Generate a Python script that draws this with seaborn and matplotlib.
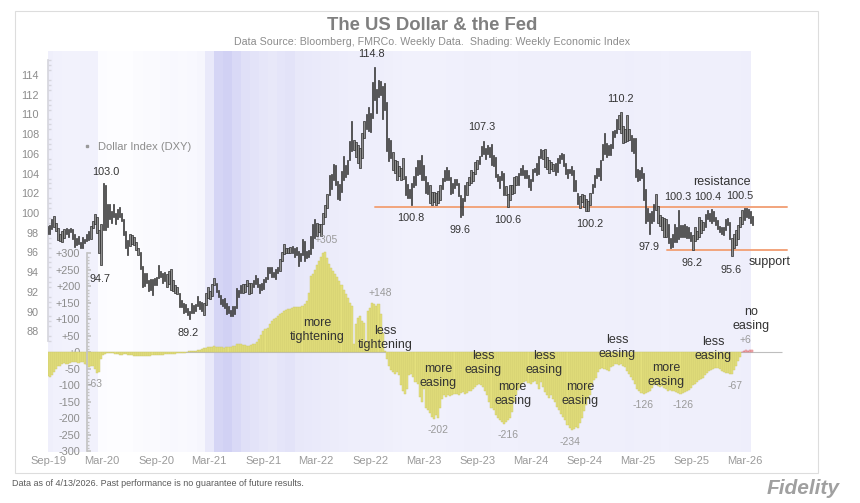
import numpy as np
import pandas as pd
import seaborn as sns
import matplotlib.pyplot as plt
import matplotlib.dates as mdates
from matplotlib.colors import LinearSegmentedColormap, PowerNorm
from matplotlib.lines import Line2D
from matplotlib.patches import Rectangle
from matplotlib.ticker import FuncFormatter, FixedLocator

# weekly (Friday) Dollar Index range, one line per month, Sep-2019 .. Apr-2026
dxy_low = [
    97.9, 97.9, 98.4,
    98.6, 98.2, 97.3, 97.2,
    97.1, 97.5, 97.9, 97.6, 98.1,
    97.4, 96.6, 96.8, 96.9,
    96.4, 96.4, 97.0, 97.2, 97.3,
    97.4, 98.5, 98.9, 98.0,
    95.9, 94.7, 98.3, 98.3,
    98.6, 99.4, 99.0, 99.6,
    98.9, 99.4, 99.6, 99.2, 97.8,
    96.5, 95.7, 96.7, 96.9,
    96.8, 96.2, 95.7, 94.3, 92.5,
    92.6, 92.9, 92.1, 92.2,
    91.7, 92.7, 92.7, 93.4,
    93.5, 92.9, 93.1, 92.5, 92.8,
    92.2, 92.1, 91.9, 91.8,
    90.5, 90.5, 89.9, 90.0,
    89.7, 89.2, 89.9, 89.9, 90.1,
    90.6, 90.3, 90.1, 89.7,
    90.7, 91.4, 91.3, 91.6,
    92.7, 92.0, 91.5, 90.8, 90.6,
    90.4, 89.8, 89.9, 89.6,
    89.6, 89.8, 90.4, 91.5,
    91.9, 91.9, 92.0, 92.6, 91.8,
    91.9, 92.5, 92.8, 92.5,
    91.9, 92.2, 92.3, 93.0,
    93.3, 93.9, 93.5, 93.5, 93.3,
    93.9, 94.1, 95.1, 95.8,
    95.9, 95.9, 95.9, 95.9, 95.5,
    95.7, 94.6, 95.1, 95.7,
    95.1, 95.4, 95.5, 95.8,
    96.4, 97.5, 97.7, 98.1,
    97.7, 98.9, 99.6, 100.5, 101.8,
    102.4, 103.4, 102.8, 101.4,
    101.3, 102.1, 103.4, 103.7,
    104.0, 105.4, 106.3, 106.4, 105.7,
    105.1, 104.6, 105.6, 107.6,
    108.5, 108.3, 108.2, 109.6, 111.5,
    110.1, 111.8, 112.0, 109.5,
    110.5, 106.3, 105.3, 105.6,
    104.4, 104.1, 103.4, 103.8, 103.4,
    103.5, 101.8, 101.5, 101.5,
    100.8, 102.6, 102.8, 103.9,
    104.0, 103.4, 103.4, 102.0, 101.9,
    101.0, 100.8, 101.1, 100.8,
    101.0, 101.3, 102.4, 103.2,
    103.3, 103.3, 101.9, 102.0, 102.5,
    102.8, 101.7, 99.6, 99.8,
    101.2, 101.8, 102.8, 103.0,
    103.2, 104.0, 104.5, 105.0, 105.8,
    106.0, 105.5, 106.0, 105.7,
    104.9, 104.8, 103.7, 103.2,
    102.5, 103.3, 101.8, 101.8, 100.6,
    101.3, 101.9, 102.0, 102.8,
    102.8, 103.9, 103.9, 103.6,
    103.6, 102.6, 102.3, 103.2, 104.2,
    103.9, 104.0, 105.6, 105.5,
    104.7, 104.5, 104.1, 104.5, 104.3,
    103.9, 104.2, 105.1, 105.5,
    104.8, 104.0, 103.6, 104.1,
    103.9, 102.2, 102.2, 100.9, 100.5,
    101.1, 100.6, 100.2, 100.2,
    100.8, 102.0, 102.6, 103.6,
    103.8, 103.3, 105.4, 106.0, 105.7,
    105.9, 105.9, 106.6, 107.7,
    108.1, 108.5, 108.1, 107.1, 107.2,
    107.3, 107.4, 106.3, 106.1,
    103.7, 103.2, 103.3, 103.6,
    101.3, 99.0, 99.2, 97.9,
    99.0, 99.2, 100.3, 99.0, 98.7,
    98.3, 97.6, 97.6, 97.0,
    96.4, 96.6, 97.1, 97.1,
    97.4, 97.6, 97.6, 97.6, 97.5,
    97.5, 97.2, 96.2, 97.2,
    97.4, 97.6, 98.0, 98.3, 98.6,
    99.4, 99.2, 99.0, 99.2,
    98.8, 98.4, 98.1, 97.9,
    97.8, 98.3, 98.8, 97.4, 95.6,
    96.4, 96.8, 97.4, 98.6,
    98.9, 99.3, 99.6, 99.5,
    99.0, 98.8,
]
dxy_high = [
    98.7, 98.8, 99.4,
    99.7, 99.0, 98.5, 97.9,
    98.2, 98.4, 98.5, 98.4, 98.5,
    98.4, 97.9, 97.5, 97.7,
    97.1, 97.6, 97.4, 97.9, 98.2,
    98.7, 99.2, 99.9, 99.6,
    98.3, 98.9, 103.0, 102.8,
    100.9, 100.9, 100.2, 100.9,
    100.0, 100.4, 100.6, 100.0, 99.4,
    98.2, 97.3, 97.9, 97.8,
    97.6, 97.1, 96.5, 96.0, 94.6,
    93.9, 93.9, 93.2, 93.3,
    93.3, 93.4, 93.5, 94.7,
    94.1, 93.9, 94.0, 93.8, 94.1,
    94.3, 93.2, 92.7, 92.5,
    91.9, 91.2, 90.9, 90.8,
    90.4, 90.1, 90.9, 90.7, 90.8,
    91.6, 91.1, 91.0, 90.9,
    91.9, 92.5, 92.1, 92.8,
    93.4, 92.9, 92.2, 91.7, 91.3,
    91.4, 90.9, 90.6, 90.2,
    90.6, 90.6, 92.4, 92.2,
    92.7, 92.8, 92.8, 93.2, 92.9,
    92.9, 93.2, 93.7, 93.4,
    92.8, 92.9, 93.3, 93.5,
    94.5, 94.5, 94.5, 94.0, 94.3,
    94.5, 95.3, 96.0, 96.9,
    96.4, 96.5, 96.6, 96.7, 96.4,
    96.6, 96.1, 95.9, 97.4,
    97.2, 96.1, 96.2, 97.7,
    98.9, 99.4, 99.0, 98.9,
    98.9, 100.0, 100.8, 101.9, 103.9,
    104.0, 105.0, 104.9, 103.2,
    102.9, 104.3, 105.8, 104.9,
    105.4, 107.3, 109.3, 107.4, 107.2,
    106.9, 106.6, 108.1, 109.3,
    110.0, 110.8, 110.1, 113.3, 114.8,
    112.6, 113.5, 113.4, 112.9,
    113.2, 111.3, 107.6, 107.4,
    106.2, 105.4, 105.3, 104.8, 104.6,
    105.6, 103.8, 102.9, 102.4,
    103.0, 103.8, 104.7, 105.4,
    105.4, 105.9, 104.9, 103.8, 103.1,
    102.8, 102.1, 102.1, 102.0,
    102.2, 102.8, 103.6, 104.4,
    104.7, 104.4, 103.7, 103.0, 103.5,
    103.5, 103.0, 101.8, 101.5,
    102.8, 103.1, 103.7, 104.4,
    104.2, 105.2, 105.4, 105.8, 106.8,
    107.3, 106.6, 106.9, 106.7,
    107.0, 105.9, 105.7, 104.0,
    103.8, 104.3, 104.1, 102.7, 101.9,
    102.8, 102.8, 103.7, 103.8,
    104.1, 104.6, 104.9, 104.4,
    104.4, 103.9, 103.5, 104.5, 104.6,
    105.1, 105.8, 106.5, 106.4,
    106.5, 105.7, 105.4, 105.2, 105.0,
    105.1, 105.6, 105.9, 106.1,
    106.0, 105.1, 104.5, 104.5,
    104.8, 104.4, 103.3, 102.0, 101.7,
    101.9, 101.8, 101.4, 101.2,
    102.0, 102.9, 103.9, 104.6,
    104.6, 105.4, 107.0, 108.1, 107.1,
    106.9, 107.0, 108.3, 108.4,
    109.5, 109.9, 110.2, 108.8, 108.5,
    109.9, 108.5, 107.9, 107.6,
    107.6, 104.5, 104.4, 104.7,
    104.1, 102.4, 100.5, 100.0,
    100.2, 100.9, 101.9, 100.7, 99.8,
    99.6, 99.5, 99.4, 98.9,
    97.5, 97.9, 98.9, 98.6,
    100.3, 98.8, 98.8, 98.9, 98.7,
    98.6, 98.1, 97.8, 98.6,
    98.2, 99.6, 99.3, 99.1, 99.9,
    100.3, 100.0, 100.4, 100.2,
    99.6, 99.3, 98.7, 98.6,
    98.6, 99.4, 99.5, 99.1, 97.5,
    97.9, 98.3, 98.8, 99.6,
    100.3, 100.5, 100.5, 100.4,
    100.2, 99.7,
]
# weekly Fed pricing in bps: hikes (+) / cuts (-) expected, same weeks as DXY
fed_bps = [
    -72, -75, -68,
    -60, -50, -42, -40,
    -35, -32, -36, -34, -33,
    -30, -28, -30, -32,
    -30, -28, -35, -38, -45,
    -40, -42, -50, -63,
    -60, -20, -8, -4,
    -2, -2, -3, -3,
    -4, -6, -8, -7, -6,
    -6, -7, -8, -9,
    -10, -11, -12, -12, -11,
    -12, -12, -11, -10,
    -9, -9, -8, -8,
    -7, -7, -6, -6, -5,
    -5, -4, -4, -3,
    -3, -2, -2, -1,
    2, 3, 4, 5, 5,
    6, 8, 10, 12,
    14, 16, 15, 17,
    18, 17, 16, 15, 15,
    14, 15, 16, 17,
    18, 20, 24, 26,
    24, 22, 22, 20, 20,
    22, 24, 26, 30,
    40, 52, 65, 72,
    75, 85, 95, 100, 105,
    110, 115, 120, 125,
    128, 130, 132, 134, 136,
    136, 138, 136, 140,
    145, 156, 180, 230,
    237, 250, 265, 278,
    290, 300, 305, 285, 268,
    255, 245, 237, 228,
    217, 205, 190, 176,
    165, 150, 141, 24, 85,
    105, 110, 95, 90,
    34, 125, 135, 148, 145,
    140, 146, 115, 60,
    5, -20, -40, -55,
    -60, -66, -60, -70, -100,
    -118, -126, -110, -70,
    -66, -76, -90, -96,
    -136, -150, -110, -170, -176,
    -185, -195, -202, -190,
    -198, -170, -140, -130,
    -135, -128, -132, -130, -126,
    -125, -128, -122, -120,
    -125, -122, -117, -118,
    -110, -105, -100, -97, -100,
    -104, -117, -130, -150,
    -168, -175, -190, -200,
    -205, -212, -216, -210, -205,
    -198, -180, -150, -128,
    -115, -107, -95, -90,
    -87, -92, -95, -90, -88,
    -97, -110, -90, -105,
    -120, -128, -138, -130, -140,
    -150, -165, -175, -188,
    -195, -205, -219, -230,
    -234, -232, -225, -229, -215,
    -200, -178, -160, -140,
    -128, -100, -85, -77,
    -60, -50, -47, -52, -55,
    -57, -45, -40, -36,
    -36, -38, -35, -40, -45,
    -57, -65, -75, -85,
    -97, -110, -117, -122,
    -126, -124, -120, -117,
    -107, -100, -97, -102, -105,
    -102, -108, -112, -117,
    -115, -117, -118, -120,
    -122, -126, -124, -120, -118,
    -115, -107, -100, -95,
    -90, -85, -80, -77, -70,
    -62, -58, -55, -50,
    -48, -47, -50, -57,
    -60, -62, -64, -65, -67,
    -55, -40, -26, -15,
    2, 4, 6, 5,
    6, 6,
]
# monthly average of the Weekly Economic Index (background shading), Sep-2019 .. Apr-2026
wei = [
    2.0, 1.2, 0.9, 0.9,
    1.0, 1.0, -6.0, -10.5, -10.0, -8.0, -5.0, -4.5, -4.0, -3.5, -3.0, -3.5,
    -2.5, -1.5, 4.5, 10.5, 11.5, 9.5, 7.5, 6.5, 5.5, 5.0, 6.0, 6.5,
    5.0, 4.5, 4.2, 3.8, 3.5, 3.0, 2.6, 2.5, 2.5, 2.4, 2.0, 1.8,
    1.5, 1.4, 1.3, 1.4, 1.5, 1.6, 1.8, 2.0, 2.1, 2.0, 1.9, 1.8,
    1.9, 2.0, 2.1, 2.0, 2.0, 2.1, 2.2, 2.1, 2.0, 2.0, 2.1, 2.2,
    2.3, 2.4, 2.3, 2.2, 2.0, 1.9, 2.0, 2.1, 2.2, 2.2, 2.3, 2.2,
    2.3, 2.3, 2.4, 2.4,
]
first_week = "2019-09-13"
first_month = "2019-09-01"
no_easing_from = "2026-03-01"
resistance, resistance_from = 100.6, "2022-10-02"
support, support_from = 96.2, "2025-06-24"
levels_to = "2026-08-06"

dxy_notes = [
    ("103.0", "2020-03-30", 104.2), ("94.7", "2020-03-10", 93.3),
    ("89.2", "2021-01-04", 87.8), ("114.8", "2022-09-19", 116.1),
    ("100.8", "2023-02-02", 99.5), ("99.6", "2023-07-19", 98.3),
    ("107.3", "2023-10-01", 108.7), ("100.6", "2023-12-28", 99.3),
    ("100.2", "2024-10-04", 98.9), ("110.2", "2025-01-14", 111.6),
    ("97.9", "2025-04-23", 96.6), ("100.3", "2025-07-30", 101.6),
    ("100.4", "2025-11-10", 101.6), ("100.5", "2026-02-27", 101.7),
    ("96.2", "2025-09-16", 94.9), ("95.6", "2026-01-27", 94.2),
]
level_notes = [("resistance", "2025-12-27", 103.1), ("support", "2026-06-06", 95.0)]
bps_notes = [
    ("+305", "2022-04-18", 339), ("+148", "2022-10-19", 181),
    ("-63", "2020-02-20", -96), ("-202", "2023-05-05", -236),
    ("-216", "2023-12-28", -251), ("-234", "2024-07-27", -272),
    ("-126", "2025-04-02", -160), ("-126", "2025-08-16", -160),
    ("-67", "2026-02-09", -102), ("+6", "2026-03-16", 38),
]
phase_notes = [
    ("more\ntightening", "2022-03-19", 68), ("less\ntightening", "2022-11-05", 44),
    ("more\neasing", "2023-05-05", -71), ("less\neasing", "2023-10-05", -32),
    ("more\neasing", "2024-01-14", -126), ("less\neasing", "2024-04-30", -32),
    ("more\neasing", "2024-08-31", -126), ("less\neasing", "2025-01-04", 17),
    ("more\neasing", "2025-06-20", -68), ("less\neasing", "2025-11-27", 11),
    ("no\neasing", "2026-04-05", 102),
]


def d(s):
    return mdates.date2num(pd.Timestamp(s))


sns.set_theme(style="white")
plt.rcParams["font.family"] = ["Liberation Sans", "DejaVu Sans"]

weeks = pd.date_range(first_week, periods=len(dxy_low), freq="W-FRI")
months = pd.date_range(first_month, periods=len(wei), freq="MS")
xw = mdates.date2num(weeks)
lo = np.array(dxy_low)
hi = np.array(dxy_high)
bps = np.array(fed_bps)
dxy_lim = (75.75, 116.44)

fig = plt.figure(figsize=(8.6, 5.03), dpi=100)
ax = fig.add_axes([48 / 860, 51 / 503, 742 / 860, 401 / 503])
ax2 = ax.twinx()

# background shading from the economic index
edges = np.append(mdates.date2num(months), xw[-1] - 4)
cmap = LinearSegmentedColormap.from_list("wei", ["#FDFDFF", "#CFCFF3"])
ax.pcolormesh(edges, dxy_lim, np.array([wei]), cmap=cmap,
              norm=PowerNorm(2.0, vmin=-10, vmax=12), shading="flat", zorder=0)

# dollar index weekly range bars
ax.bar(xw, hi - lo, bottom=lo, width=4.5, color="#8E8E8E", edgecolor="#2B2B2B",
       linewidth=0.5, zorder=3)
for level, start in [(resistance, resistance_from), (support, support_from)]:
    sns.lineplot(x=[d(start), d(levels_to)], y=[level, level], color="#F2A47C",
                 lw=1.4, ax=ax, zorder=2)

# fed pricing bars
late = weeks >= pd.Timestamp(no_easing_from)
ax2.hlines(0, d("2019-09-14"), d("2026-07-20"), color="#BEBEBE", lw=0.8, zorder=1)
ax2.bar(xw, bps, width=7, color=np.where(late, "#F3C2C4", "#E4E07C"),
        edgecolor=np.where(late, "#D9636B", "#CAC66A"), linewidth=0.3, zorder=2)

ax.set_xlim(d("2019-09-14"), d("2026-08-16"))
ax.set_ylim(*dxy_lim)
ax2.set_ylim(-302, 913)

for a in (ax, ax2):
    for s in a.spines.values():
        s.set_visible(False)

ax.spines["left"].set_visible(True)
ax.spines["left"].set_color("#D6D6DE")
ax.spines["left"].set_bounds(87, 115.5)
ax.set_yticks(range(88, 115, 2))
ax.yaxis.set_minor_locator(FixedLocator(np.arange(87, 115.6, 0.5)))
ax.tick_params(axis="y", which="major", length=0, pad=6.5, labelsize=7.8,
               labelcolor="#8C8C8C")
ax.tick_params(axis="y", which="minor", left=True, length=2, color="#D6D6DE",
               direction="in")

ax2.yaxis.tick_left()
ax2.spines["left"].set_visible(True)
ax2.spines["left"].set_position(("axes", 0.0519))
ax2.spines["left"].set_bounds(-300, 300)
ax2.spines["left"].set_color("#C4C4C4")
ax2.set_yticks(range(-300, 301, 50))
ax2.yaxis.set_major_formatter(FuncFormatter(lambda v, _: f"{v:+.0f}"))
ax2.yaxis.set_minor_locator(FixedLocator(range(-300, 301, 10)))
ax2.tick_params(axis="y", which="major", direction="in", length=3, pad=4.5,
                color="#C4C4C4", labelsize=7.8, labelcolor="#8C8C8C")
ax2.tick_params(axis="y", which="minor", left=True, direction="in", length=1.5,
                color="#C4C4C4")

ax.xaxis.set_major_locator(mdates.MonthLocator(bymonth=(3, 9), bymonthday=16))
ax.xaxis.set_major_formatter(mdates.DateFormatter("%b-%y"))
ax.tick_params(axis="x", length=0, pad=3, labelsize=8, labelcolor="#9A9A9A")

for text, day, val in dxy_notes:
    ax.text(d(day), val, text, ha="center", va="center", fontsize=7.8,
            color="#333333", zorder=5)
for text, day, val in level_notes:
    ax.text(d(day), val, text, ha="center", va="center", fontsize=9,
            color="#333333", zorder=5)
for text, day, val in bps_notes:
    ax2.text(d(day), val, text, ha="center", va="center", fontsize=7.5,
             color="#9A9A9A", zorder=5)
for text, day, val in phase_notes:
    ax2.text(d(day), val, text, ha="center", va="center", fontsize=9,
             color="#333333", zorder=5)

ax2.legend(handles=[Line2D([], [], marker="s", markersize=2, linestyle="none",
                           color="#999999")],
           labels=["Dollar Index (DXY)"], loc="center left",
           bbox_to_anchor=(0.0485, 0.7606), frameon=False, fontsize=8,
           labelcolor="#8C8C8C", handlelength=0.6, handletextpad=0.7,
           borderpad=0, borderaxespad=0)

fig.add_artist(Rectangle((15 / 860, 30 / 503), 803 / 860, 462 / 503,
                         transform=fig.transFigure, fill=False,
                         edgecolor="#DDDDDD", linewidth=0.8))
fig.text(432 / 860, 1 - 25 / 503, "The US Dollar & the Fed", ha="center",
         va="center", fontsize=13.3, weight="bold", color="#7F7F7F")
fig.text(432 / 860, 1 - 42 / 503,
         "Data Source: Bloomberg, FMRCo. Weekly Data.  Shading: Weekly Economic Index",
         ha="center", va="center", fontsize=7.7, color="#8C8C8C")
fig.text(12 / 860, 1 - 483 / 503,
         "Data as of 4/13/2026. Past performance is no guarantee of future results.",
         ha="left", va="center", fontsize=6.5, color="#5A5A5A")
fig.text(803 / 860, 1 - 488 / 503, "Fidelity", ha="center", va="center",
         fontsize=15, weight="bold", style="italic", color="#A0A0A0")

fig.savefig("out.png", dpi=100)
